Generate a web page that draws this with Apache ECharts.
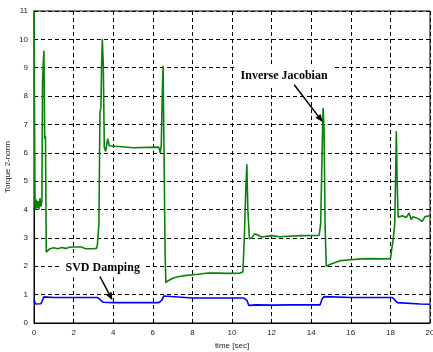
<!DOCTYPE html>
<html>
<head>
<meta charset="utf-8">
<script src="https://cdn.jsdelivr.net/npm/echarts@6/dist/echarts.min.js"></script>
<style>
  html, body { margin: 0; padding: 0; background: #fff; }
  #chart { width: 433px; height: 352px; }
</style>
</head>
<body>
<div id="chart"></div>
<script>
// Torque 2-norm over time for the inverse-Jacobian controller
const timeInverseJacobian = [
  0, 0.02, 0.05, 0.08, 0.12, 0.16, 0.2, 0.25, 0.3, 0.35, 0.4, 0.43, 0.47, 0.5, 0.54, 0.58, 0.62,
  0.7, 0.8, 0.9, 1.0, 1.2, 1.4, 1.6, 1.8, 2.0, 2.4, 2.6, 3.0, 3.15, 3.2, 3.28, 3.33, 3.38, 3.42,
  3.45, 3.5, 3.55, 3.62, 3.72, 3.8, 3.9, 5.0, 6.3, 6.38, 6.43, 6.47, 6.52, 6.56, 6.62, 6.66,
  6.8, 7.0, 7.2, 7.5, 8.0, 8.3, 8.8, 9.3, 9.8, 10.4, 10.55, 10.62, 10.7, 10.75, 10.8, 10.88,
  11.0, 11.15, 11.3, 11.5, 12.0, 12.4, 12.8, 13.5, 14.4, 14.48, 14.55, 14.6, 14.65, 14.7, 14.76,
  15.0, 15.5, 16.0, 16.5, 17.0, 17.5, 18.0, 18.08, 18.15, 18.22, 18.27, 18.3, 18.34, 18.39,
  18.6, 18.8, 18.95, 19.05, 19.15, 19.4, 19.6, 19.75, 20.0
];
const torqueInverseJacobian = [
  12, 8.1, 4.2, 4.0, 4.35, 4.05, 4.3, 4.0, 4.4, 4.1, 4.3, 8.5, 9.2, 9.6, 6.5, 6.6, 2.5,
  2.55, 2.62, 2.58, 2.65, 2.62, 2.66, 2.63, 2.67, 2.68, 2.68, 2.62, 2.62, 2.63, 2.75, 3.5, 7.4, 7.6, 9.3,
  10.0, 9.1, 6.2, 6.05, 6.5, 6.25, 6.18, 6.18, 6.2, 6.0, 6.3, 7.8, 9.07, 6.5, 2.5, 1.42,
  1.5, 1.58, 1.62, 1.66, 1.7, 1.72, 1.76, 1.76, 1.75, 1.76, 1.8, 2.97, 4.8, 5.6, 4.0, 2.97,
  3.0, 3.15, 3.1, 3.03, 3.08, 3.04, 3.06, 3.08, 3.09, 3.5, 6.0, 7.58, 6.8, 3.5, 2.0,
  2.08, 2.2, 2.23, 2.26, 2.27, 2.26, 2.27, 2.3, 3.0, 3.5, 5.5, 6.76, 5.0, 3.73,
  3.78, 3.72, 3.88, 3.65, 3.75, 3.68, 3.58, 3.75, 3.78
];

// Torque 2-norm over time with SVD damping
const timeSvdDamping = [
  0, 0.08, 0.35, 0.42, 0.5, 0.6, 1.0, 2.0, 3.2, 3.3, 3.5, 4.0, 6.3, 6.45, 6.55, 6.65, 8.0,
  10.6, 10.75, 10.85, 11.2, 12, 13, 14.45, 14.55, 14.65, 14.75, 16, 18.1, 18.2, 18.35, 18.45,
  19.5, 20
];
const torqueSvdDamping = [
  0.82, 0.67, 0.68, 0.75, 0.92, 0.9, 0.9, 0.9, 0.9, 0.88, 0.73, 0.72, 0.72, 0.8, 0.95, 0.9, 0.88,
  0.88, 0.8, 0.62, 0.64, 0.63, 0.64, 0.64, 0.85, 0.93, 0.9, 0.9, 0.9, 0.93, 0.72, 0.68,
  0.67, 0.66
];

// Axis ranges and tick spacing
const timeTicks = { min: 0, max: 20, interval: 2 };
const torqueTicks = { min: 0, max: 11, interval: 1 };

// Callout texts with anchor (text centre) and arrow (from, to) in data units
const callouts = [
  { text: 'Inverse Jacobian', at: [12.63, 8.72], from: [13.14, 8.4], to: [14.59, 7.08] },
  { text: 'SVD Damping', at: [3.47, 1.96], from: [3.33, 1.64], to: [3.96, 0.8] }
];

const zip = (xs, ys) => xs.map((x, i) => [x, ys[i]]);

const chart = echarts.init(document.getElementById('chart'), null, { renderer: 'canvas' });

const tickFont = { fontFamily: 'Liberation Sans, Arial, sans-serif', fontSize: 8, color: '#222' };

chart.setOption({
  animation: false,
  backgroundColor: '#fff',
  grid: {
    left: 34, right: 3, top: 11, bottom: 29,
    containLabel: false, outerBoundsMode: 'none',
    show: true, borderColor: '#000', borderWidth: 1, backgroundColor: 'transparent'
  },
  xAxis: {
    type: 'value', min: timeTicks.min, max: timeTicks.max, interval: timeTicks.interval,
    name: 'time [sec]', nameLocation: 'middle', nameGap: 19, nameMoveOverlap: false,
    nameTextStyle: tickFont,
    axisLine: { onZero: false, lineStyle: { color: '#000', width: 1 } },
    axisTick: { show: true, inside: true, length: 3, lineStyle: { color: '#000' } },
    axisLabel: Object.assign({ margin: 6 }, tickFont),
    splitLine: { show: true, lineStyle: { color: '#000', type: [4, 3], width: 1 } }
  },
  yAxis: {
    type: 'value', min: torqueTicks.min, max: torqueTicks.max, interval: torqueTicks.interval,
    name: 'Torque 2-norm', nameLocation: 'middle', nameGap: 22, nameRotate: 90, nameMoveOverlap: false,
    nameTextStyle: tickFont,
    axisLine: { onZero: false, lineStyle: { color: '#000', width: 1 } },
    axisTick: { show: true, inside: true, length: 3, lineStyle: { color: '#000' } },
    axisLabel: Object.assign({ margin: 6 }, tickFont),
    splitLine: { show: true, lineStyle: { color: '#000', type: [4, 3], width: 1 } }
  },
  series: [
    {
      name: 'Inverse Jacobian', type: 'line', z: 3,
      data: zip(timeInverseJacobian, torqueInverseJacobian),
      showSymbol: false, clip: true,
      lineStyle: { color: '#0a820a', width: 1.6 }
    },
    {
      name: 'SVD Damping', type: 'line', z: 3,
      data: zip(timeSvdDamping, torqueSvdDamping),
      showSymbol: false, clip: true,
      lineStyle: { color: '#0000ff', width: 1.6 }
    }
  ]
});

// Callout labels (white boxes over the grid) and arrows placed through the axes
const elements = [];
callouts.forEach(c => {
  const p = chart.convertToPixel({ gridIndex: 0 }, c.at);
  const a = chart.convertToPixel({ gridIndex: 0 }, c.from);
  const b = chart.convertToPixel({ gridIndex: 0 }, c.to);
  elements.push({
    type: 'text', z: 1, x: p[0], y: p[1],
    style: {
      text: c.text, fill: '#000', align: 'center', verticalAlign: 'middle',
      font: 'bold 12px "Liberation Serif", "Times New Roman", serif',
      backgroundColor: '#fff', padding: [4, 5]
    }
  });
  const ang = Math.atan2(b[1] - a[1], b[0] - a[0]);
  const hl = 8, hw = 3.2;
  const bx = b[0] - hl * Math.cos(ang), by = b[1] - hl * Math.sin(ang);
  elements.push({
    type: 'line', z: 4,
    shape: { x1: a[0], y1: a[1], x2: bx, y2: by },
    style: { stroke: '#000', lineWidth: 1.5 }
  });
  elements.push({
    type: 'polygon', z: 4,
    shape: { points: [
      [b[0], b[1]],
      [bx + hw * Math.sin(ang), by - hw * Math.cos(ang)],
      [bx - hw * Math.sin(ang), by + hw * Math.cos(ang)]
    ] },
    style: { fill: '#000' }
  });
});
chart.setOption({ graphic: elements });
</script>
</body>
</html>
